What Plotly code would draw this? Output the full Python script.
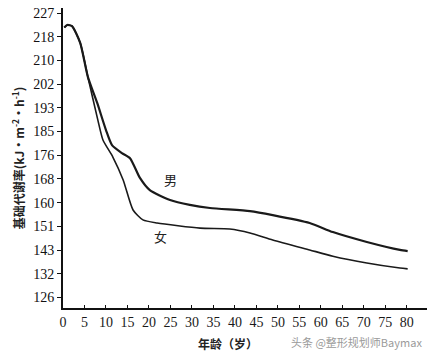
import plotly.graph_objects as go

# Data (age in years, basal metabolic rate in kJ·m⁻²·h⁻¹)
male_age = [0.3, 1.0, 2.1, 4.0, 5.8, 8.0, 10.0, 11.4, 13.7, 15.6, 17.9, 20.2, 24.9, 29.5, 34.2, 43.5, 48.8, 57.4, 62.8, 70.7, 78.4, 80.2]
male_bmr = [220.8, 221.7, 221.3, 215.4, 203.3, 194.0, 184.6, 179.3, 176.5, 174.7, 167.7, 163.4, 159.9, 158.2, 157.1, 156.0, 154.6, 151.8, 148.6, 145.1, 142.3, 141.9]

female_age = [0.3, 1.0, 2.1, 4.0, 5.8, 8.1, 9.3, 11.6, 14.0, 16.3, 18.6, 21.9, 31.9, 38.8, 43.5, 48.8, 57.4, 62.8, 70.7, 78.4, 80.2]
female_bmr = [220.8, 221.7, 221.3, 215.4, 203.3, 188.2, 181.1, 175.1, 167.0, 156.4, 152.9, 151.8, 150.0, 149.7, 148.3, 145.8, 142.3, 140.1, 137.7, 135.9, 135.6]

# Axis ticks: evenly spaced in kcal (54..30 step 2), labelled in kJ
tick_kcal = [54, 52, 50, 48, 46, 44, 42, 40, 38, 36, 34, 32, 30]
tick_labels = ["227", "218", "210", "202", "193", "185", "176", "168", "160", "151", "143", "132", "126"]
tick_kj = [k * 4.184 for k in tick_kcal]
x_ticks = list(range(0, 85, 5))[:17]

fig = go.Figure()
fig.add_trace(go.Scatter(x=male_age, y=male_bmr, mode="lines", name="男",
                         line=dict(color="#1a1a1a", width=2.2, shape="spline", smoothing=0.6)))
fig.add_trace(go.Scatter(x=female_age, y=female_bmr, mode="lines", name="女",
                         line=dict(color="#1a1a1a", width=1.6, shape="spline", smoothing=0.6)))

fig.add_annotation(x=24.9, y=167.0, text="男", showarrow=False,
                   font=dict(family="Noto Sans CJK SC", size=13, color="#222"))
fig.add_annotation(x=22.6, y=146.9, text="女", showarrow=False,
                   font=dict(family="Noto Sans CJK SC", size=13, color="#222"))

fig.add_annotation(xref="paper", yref="paper", x=0.453, y=-0.117, text="<b>年龄（岁）</b>",
                   showarrow=False, yanchor="middle",
                   font=dict(family="Noto Sans CJK SC", size=12, color="#222"))
fig.add_annotation(xref="paper", yref="paper", x=0.992, y=-0.113, text="头条 @整形规划师Baymax",
                   showarrow=False, yanchor="middle", xanchor="right",
                   font=dict(family="Noto Sans CJK SC", size=11, color="#9a9a9a"))

fig.update_layout(
    width=432, height=356,
    margin=dict(l=63, r=5, t=8, b=48),
    paper_bgcolor="white", plot_bgcolor="white",
    showlegend=False,
    xaxis=dict(range=[0, 84.7], tickvals=x_ticks, ticktext=[str(v) for v in x_ticks],
               showgrid=False, zeroline=False, showline=True, linecolor="#111", linewidth=2,
               ticks="inside", ticklen=3, tickcolor="#111",
               tickfont=dict(family="Liberation Serif", size=14, color="#1a1a1a")),
    yaxis=dict(range=[121.8, 227.7], tickvals=tick_kj, ticktext=tick_labels,
               showgrid=False, zeroline=False, showline=True, linecolor="#111", linewidth=2,
               ticks="outside", ticklen=4, tickcolor="#111",
               tickfont=dict(family="Liberation Serif", size=14, color="#111"),
               title=dict(text="<b>基础代谢率(kJ·m<sup>-2</sup>·h<sup>-1</sup>)</b>", standoff=6,
                          font=dict(family="Noto Sans CJK SC", size=12, color="#222"))),
)

fig.write_html("out.html", config={"displayModeBar": False},
               post_script="document.body.style.margin='0';document.body.style.overflow='hidden';")
